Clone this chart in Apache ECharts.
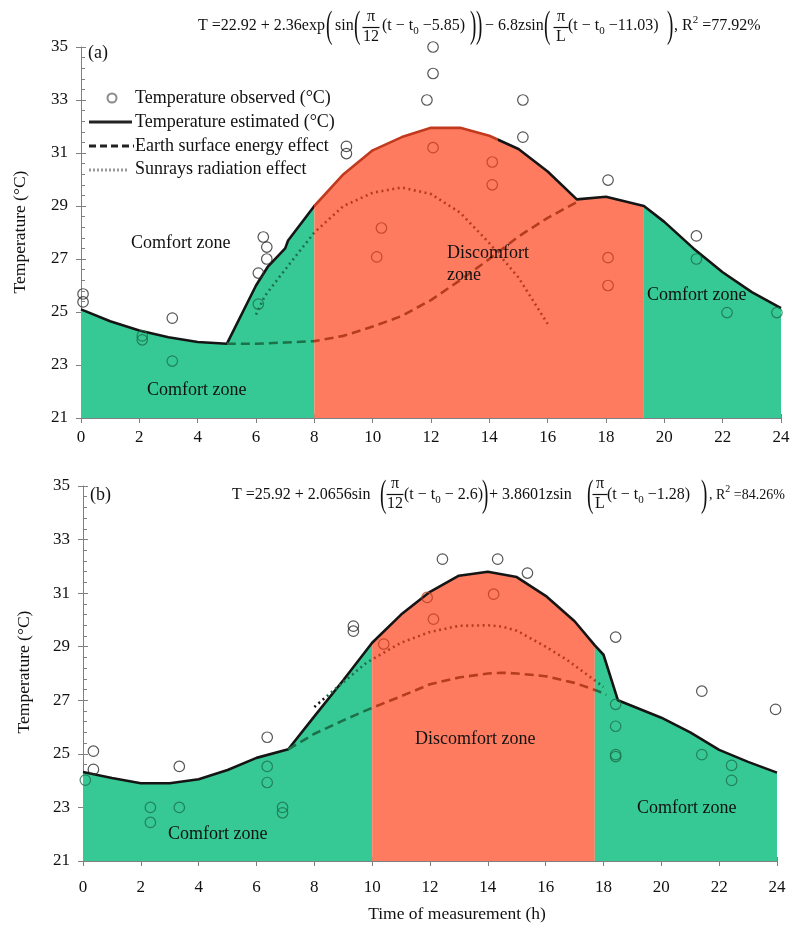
<!DOCTYPE html>
<html><head><meta charset="utf-8">
<script src="https://cdn.jsdelivr.net/npm/echarts@6.0.0/dist/echarts.min.js"></script>
<style>html,body{margin:0;padding:0;background:#fff}#c{width:797px;height:926px}</style>
</head><body><div id="c"></div>
<script>
// ---------- DATA ----------
const xTickValues = [0, 2, 4, 6, 8, 10, 12, 14, 16, 18, 20, 22, 24];
const yTickValues = [21, 23, 25, 27, 29, 31, 33, 35];

// Panel (a)
const estA = [[0,25.1],[1,24.65],[2,24.3],[3,24.05],[4,23.87],[5,23.8],[6,26.0],[6.4,26.7],[7,27.4],[7.1,27.7],[8,29.0],[9,30.2],[10,31.1],[11,31.6],[12,31.95],[13,31.95],[14,31.65],[15,31.15],[16,30.3],[17,29.25],[18,29.35],[19.3,29.0],[20,28.4],[21,27.4],[22,26.5],[23,25.75],[24,25.15]];
const dashA = [[5,23.8],[6,23.8],[7,23.85],[8,23.9],[9,24.1],[10,24.45],[11,24.85],[12,25.45],[13,26.2],[14,27.0],[15,27.85],[16,28.55],[17,29.15]];
const dotA = [[6,24.9],[6.3,25.6],[7,26.6],[8,28.0],[9,29.0],[10,29.5],[11,29.7],[12,29.45],[13,28.75],[14,27.6],[15,26.3],[16,24.55]];
const obsA = [[0.07,25.68],[0.07,25.38],[2.1,24.1],[2.1,23.95],[3.13,24.77],[3.13,23.15],[6.08,26.47],[6.25,27.83],[6.37,27.45],[6.37,27.0],[6.08,25.3],[9.1,31.25],[9.1,30.98],[10.14,27.08],[10.3,28.17],[12.07,35.0],[12.07,34.0],[11.86,33.0],[15.15,33.0],[15.15,31.6],[12.07,31.2],[14.1,30.66],[14.1,29.8],[18.07,29.98],[18.07,27.05],[18.07,26.0],[21.1,27.87],[21.1,27.0],[22.15,24.98],[23.86,24.98]];
const zonesA = [0, 8, 19.3, 24];

// Panel (b)
const estB = [[0,24.32],[1,24.1],[2,23.9],[3,23.9],[4,24.05],[5,24.4],[6,24.85],[7.1,25.17],[8,26.4],[9,27.75],[10,29.15],[11,30.2],[12,31.05],[13,31.65],[14,31.8],[15,31.6],[16,30.9],[17,29.95],[17.7,29.05],[18,28.7],[18.5,27.0],[20,26.35],[21,25.8],[22,25.15],[23,24.7],[24,24.3]];
const dashB = [[7.1,25.17],[8,25.75],[9,26.25],[10,26.72],[11,27.15],[12,27.6],[13,27.85],[14,28.0],[14.5,28.03],[15,28.0],[16,27.9],[17,27.65],[17.8,27.35],[18.1,27.2]];
const dotB = [[8,26.75],[8.7,27.4],[9.8,28.4],[10.6,28.9],[11,29.15],[12,29.55],[13,29.78],[14,29.8],[14.5,29.75],[15,29.6],[16,29.0],[16.75,28.5],[17.5,27.9],[18,27.5]];
const obsB = [[0.08,24.02],[0.36,25.1],[0.36,24.42],[2.33,23.0],[2.33,22.44],[3.33,24.53],[3.33,23.0],[6.37,25.62],[6.37,24.53],[6.37,23.93],[6.9,23.0],[6.9,22.8],[9.35,29.77],[9.35,29.58],[10.4,29.1],[12.43,32.27],[14.34,32.27],[15.37,31.75],[11.9,30.84],[14.2,30.96],[12.12,30.03],[18.42,29.36],[18.42,26.85],[18.42,26.03],[18.42,24.97],[18.42,24.9],[21.4,27.34],[21.4,24.97],[22.43,24.57],[22.43,24.01],[23.95,26.66]];
const zonesB = [0, 10, 17.7, 24];

const legendNames = ['Temperature observed (°C)', 'Temperature estimated (°C)', 'Earth surface energy effect', 'Sunrays radiation effect'];

// ---------- STYLE ----------
const FONT = '"Liberation Serif","Times New Roman",serif';
const GREEN = '#36c996', RED = '#fe7b60', DKG = '#1d7149', DKR = '#b53c1e', INK = '#151515';
const zoneKinds = ['c', 'd', 'c'];

function curveAt(est, t) {
  for (let i = 1; i < est.length; i++) {
    if (t <= est[i][0]) {
      const a = est[i-1], b = est[i];
      return a[1] + (b[1]-a[1]) * (t-a[0]) / (b[0]-a[0]);
    }
  }
  return est[est.length-1][1];
}
function zoneIdx(zones, t) {
  for (let i = 0; i < zones.length-1; i++) if (t < zones[i+1]) return i;
  return zones.length-2;
}
function obsColor(est, zones, p) {
  if (p[1] > curveAt(est, p[0])) return '#2a2a2a';
  return zoneKinds[zoneIdx(zones, p[0])] === 'c' ? DKG : DKR;
}
function zonePieces(zones) {
  const pcs = [];
  for (let i = 0; i < zones.length-1; i++) {
    pcs.push({gte: i === 0 ? -5 : zones[i], lt: i === zones.length-2 ? 30 : zones[i+1], color: zoneKinds[i] === 'c' ? DKG : DKR});
  }
  return pcs;
}

const series = [];
const visualMaps = [];

function addPanel(g, est, dash, dot, obs, zones, estPieces, dotPieces) {
  const xi = g*2, yi = g*2;
  for (let i = 0; i < zones.length-1; i++) {
    series.push({
      type: 'line', xAxisIndex: xi, yAxisIndex: yi, z: 1, silent: true,
      data: est.filter(p => p[0] >= zones[i]-1e-9 && p[0] <= zones[i+1]+1e-9),
      symbol: 'none', lineStyle: {width: 0},
      areaStyle: {color: zoneKinds[i] === 'c' ? GREEN : RED, opacity: 1, origin: 'start'}
    });
  }
  const lines = [
    [est, 'solid', 2.6, estPieces],
    [dash, [9, 5], 2.6, zonePieces(zones)],
    [dot, [2, 3.5], 2.6, dotPieces || zonePieces(zones)]
  ];
  lines.forEach(([d, type, w, pieces]) => {
    const idx = series.length;
    series.push({type: 'line', xAxisIndex: xi, yAxisIndex: yi, z: 3, data: d, symbol: 'none',
      lineStyle: {width: w, type: type, cap: 'butt'}});
    visualMaps.push({type: 'piecewise', show: false, dimension: 0, seriesIndex: idx, pieces: pieces});
  });
  series.push({
    type: 'scatter', xAxisIndex: xi, yAxisIndex: yi, z: 5, symbol: 'circle', symbolSize: 10.5,
    data: obs.map(p => ({value: p, itemStyle: {color: 'rgba(0,0,0,0)', borderColor: obsColor(est, zones, p), borderWidth: 1.2}}))
  });
}

addPanel(0, estA, dashA, dotA, obsA, zonesA,
  [{gte: -5, lt: 8, color: INK}, {gte: 8, lt: 14.3, color: '#c23a1e'}, {gte: 14.3, lt: 30, color: INK}]);
addPanel(1, estB, dashB, dotB, obsB, zonesB,
  [{gte: -5, lt: 30, color: INK}],
  [{gte: -5, lt: 8.4, color: INK}, {gte: 8.4, lt: 10, color: DKG}, {gte: 10, lt: 17.7, color: DKR}, {gte: 17.7, lt: 30, color: DKG}]);

const grids = [
  {left: 81, top: 47, width: 700, height: 371},
  {left: 83, top: 486, width: 694, height: 375}
];
const axisCol = '#808080';
const xAxes = [], yAxes = [];
grids.forEach((gr, g) => {
  const base = {type: 'value', gridIndex: g, min: 0, max: 24, interval: 2, position: 'bottom', splitLine: {show: false}};
  xAxes.push(Object.assign({}, base, {
    axisLine: {lineStyle: {color: axisCol, width: 1}},
    axisTick: {inside: true, length: 4, lineStyle: {color: axisCol}},
    minorTick: {show: true, splitNumber: 8, length: 3, lineStyle: {color: axisCol}},
    axisLabel: {fontFamily: FONT, fontSize: 17, color: '#111', margin: g === 0 ? 11 : 18}
  }));
  xAxes.push(Object.assign({}, base, {
    axisLine: {show: false}, axisTick: {inside: false, length: 5, lineStyle: {color: axisCol}}, axisLabel: {show: false}
  }));
  const ybase = {type: 'value', gridIndex: g, min: 21, max: 35, interval: 2, position: 'left', splitLine: {show: false}};
  yAxes.push(Object.assign({}, ybase, {
    axisLine: {show: true, lineStyle: {color: axisCol, width: 1}},
    axisTick: {show: true, inside: true, length: 5, lineStyle: {color: axisCol}},
    minorTick: {show: true, splitNumber: 5, length: 4, lineStyle: {color: axisCol}},
    axisLabel: {fontFamily: FONT, fontSize: 17, color: '#111', margin: 13}
  }));
  yAxes.push(Object.assign({}, ybase, {
    axisLine: {show: false}, axisTick: {show: true, inside: false, length: 5, lineStyle: {color: axisCol}}, axisLabel: {show: false}
  }));
});

// ---------- GRAPHIC TEXT ----------
const G = [];
function txt(x, y, text, size, opts, el) {
  G.push(Object.assign({type: 'text', x: x, y: y, z: 20, style: Object.assign({
    text: text, fill: '#111', font: size + 'px ' + FONT, textAlign: 'left', textVerticalAlign: 'middle'
  }, opts || {})}, el || {}));
}
function richTxt(x, y, text, size, supSize) {
  const ss = supSize || 11;
  G.push({type: 'text', x: x, y: y, z: 20, style: {
    text: text, fill: '#111', fontFamily: FONT, fontSize: size, lineHeight: 22,
    textAlign: 'left', textVerticalAlign: 'middle',
    rich: {s: {fontFamily: FONT, fontSize: ss, lineHeight: 22, verticalAlign: 'bottom', fill: '#111'},
           p: {fontFamily: FONT, fontSize: ss, lineHeight: 22, verticalAlign: 'top', fill: '#111'}}
  }});
}
function paren(x, y, ch) { txt(x, y + 1, ch, 19, {}, {scaleY: 2.0}); }
function frac(cx, y, top, bot, w) {
  txt(cx, y - 9, top, 16, {textAlign: 'center'});
  txt(cx, y + 11, bot, 16, {textAlign: 'center'});
  G.push({type: 'line', z: 20, shape: {x1: cx - w/2, y1: y + 1.5, x2: cx + w/2, y2: y + 1.5}, style: {stroke: '#111', lineWidth: 1.2}});
}
// equation (a)
(function(){
  const y = 26;
  txt(198, y, 'T =22.92 + 2.36exp', 16);
  paren(326, y, '(');
  txt(335, y, 'sin', 16);
  paren(354, y, '(');
  frac(371, y, 'π', '12', 17);
  richTxt(382, y, '(t − t{s|0} −5.85)', 16);
  paren(470, y, ')'); paren(476, y, ')');
  txt(485, y, '− 6.8zsin', 16);
  paren(544, y, '(');
  frac(561, y, 'π', 'L', 15);
  richTxt(568, y, '(t − t{s|0} −11.03)', 16);
  paren(667, y, ')');
  richTxt(674, y, ', R{p|2} =77.92%', 16);
})();
// equation (b)
(function(){
  const y = 495;
  txt(232, y, 'T =25.92 + 2.0656sin', 16);
  paren(380, y, '(');
  frac(395, y - 2, 'π', '12', 17);
  richTxt(404, y, '(t − t{s|0} − 2.6)', 16);
  paren(482, y, ')');
  txt(489, y, '+ 3.8601zsin', 16);
  paren(587, y, '(');
  frac(600, y - 2, 'π', 'L', 15);
  richTxt(607, y, '(t − t{s|0} −1.28)', 16);
  paren(701, y, ')');
  richTxt(709, y, ', R{p|2} =84.26%', 14, 10);
})();

// panel tags
txt(88, 53, '(a)', 18);
txt(90, 495, '(b)', 18);

// legend (panel a)
G.push({type: 'circle', z: 20, shape: {cx: 112, cy: 98, r: 4.5}, style: {fill: 'none', stroke: '#8a8a8a', lineWidth: 2}});
G.push({type: 'line', z: 20, shape: {x1: 89, y1: 122, x2: 132, y2: 122}, style: {stroke: '#222', lineWidth: 3}});
G.push({type: 'line', z: 20, shape: {x1: 89, y1: 146, x2: 134, y2: 146}, style: {stroke: '#222', lineWidth: 3, lineDash: [7, 4]}});
G.push({type: 'line', z: 20, shape: {x1: 89, y1: 170, x2: 128, y2: 170}, style: {stroke: '#999', lineWidth: 3, lineDash: [2, 2]}});
[98, 122, 146, 169].forEach((yy, i) => txt(135, yy, legendNames[i], 18));

// zone labels
txt(131, 243, 'Comfort zone', 18);
txt(147, 390, 'Comfort zone', 18);
txt(447, 253, 'Discomfort', 18);
txt(447, 275, 'zone', 18);
txt(647, 295, 'Comfort zone', 18);
txt(415, 739, 'Discomfort zone', 18);
txt(168, 834, 'Comfort zone', 18);
txt(637, 808, 'Comfort zone', 18);

// axis names
G.push({type: 'text', x: 20, y: 232, rotation: Math.PI/2, z: 20, style: {text: 'Temperature (°C)', fill: '#111', font: '17.5px ' + FONT, textAlign: 'center', textVerticalAlign: 'middle'}});
G.push({type: 'text', x: 24, y: 672, rotation: Math.PI/2, z: 20, style: {text: 'Temperature (°C)', fill: '#111', font: '17.5px ' + FONT, textAlign: 'center', textVerticalAlign: 'middle'}});
txt(457, 914, 'Time of measurement (h)', 17.5, {textAlign: 'center'});

const chart = echarts.init(document.getElementById('c'), null, {renderer: 'canvas'});
chart.setOption({
  animation: false,
  backgroundColor: '#fff',
  grid: grids,
  xAxis: xAxes,
  yAxis: yAxes,
  visualMap: visualMaps,
  series: series,
  graphic: {elements: G}
});
</script>
</body></html>
